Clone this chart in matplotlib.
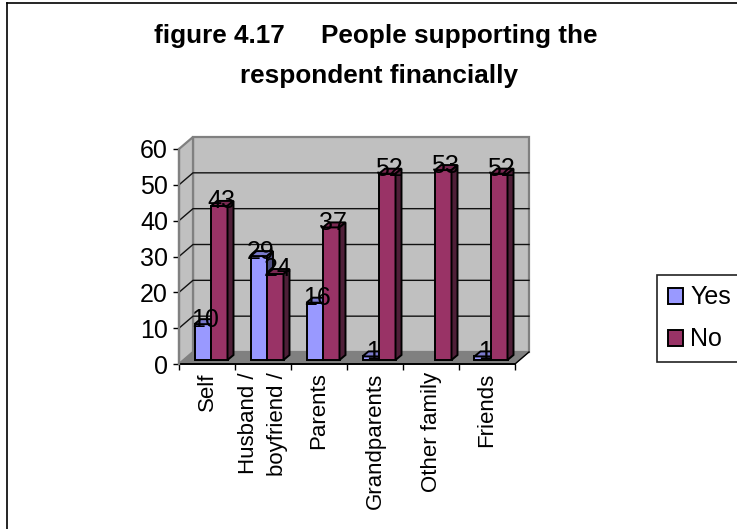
import matplotlib
matplotlib.use('Agg')
import matplotlib.pyplot as plt
from matplotlib.lines import Line2D
from matplotlib.patches import Patch, Polygon

plt.rcParams['font.family'] = ['Liberation Sans', 'DejaVu Sans']

categories = ['Self', 'Husband /\nboyfriend /', 'Parents', 'Grandparents', 'Other family', 'Friends']
yes_values = [10, 29, 16, 1, 0, 1]
no_values = [43, 24, 37, 52, 53, 52]
y_ticks = [0, 10, 20, 30, 40, 50, 60]

W, H = 737, 529
fig = plt.figure(figsize=(W / 100, H / 100), dpi=100, facecolor='white')

# front plane of the 3d box, in pixels
left, right, bottom, top = 179, 515, 364, 149
ax = fig.add_axes([left / W, 1 - bottom / H, (right - left) / W, (bottom - top) / H])
ax.set_xlim(0, 6)
ax.set_ylim(0, 60)
ax.patch.set_visible(False)
for s in ax.spines.values():
    s.set_visible(False)

ux = 6 / (right - left)
uy = 60 / (bottom - top)
wall_dx, wall_dy = 14 * ux, 12 * uy   # depth of the whole box
base_dx, base_dy = 4 * ux, 4 * uy     # where the bars stand on the floor
bar_dx, bar_dy = 6 * ux, 5 * uy       # depth of one bar
bar_w = 16.5 * ux

grey = '#c0c0c0'
dark = '#808080'


def poly(pts, fc, ec='black', lw=1.4, z=2):
    ax.add_patch(Polygon(pts, closed=True, facecolor=fc, edgecolor=ec, linewidth=lw,
                         joinstyle='miter', clip_on=False, zorder=z))


# walls and floor
poly([(wall_dx, wall_dy), (6 + wall_dx, wall_dy), (6 + wall_dx, 60 + wall_dy), (wall_dx, 60 + wall_dy)],
     grey, dark, 1.6, 1)
poly([(0, 0), (wall_dx, wall_dy), (wall_dx, 60 + wall_dy), (0, 60)], grey, dark, 1.6, 1)
poly([(0, 0), (6, 0), (6 + wall_dx, wall_dy), (wall_dx, wall_dy)], dark, dark, 0.5, 1)

for t in y_ticks[1:-1]:
    ax.plot([0, wall_dx, 6 + wall_dx], [t, t + wall_dy, t + wall_dy], color='#111111', lw=1,
            clip_on=False, zorder=1.5)
ax.plot([6, 6 + wall_dx], [0, wall_dy], color='black', lw=1, clip_on=False, zorder=1.5)


def draw_bars(values, offset, face, top_c, side_c, z):
    xs = [i + 0.5 + base_dx + offset for i in range(len(values))]
    for x, v in zip(xs, values):
        if v == 0:
            continue
        x0, x1 = x - bar_w / 2, x + bar_w / 2
        t = v + base_dy
        ax.bar(x, v, bottom=base_dy, width=bar_w, color=face, edgecolor='black', linewidth=1.4,
               clip_on=False, zorder=z)
        poly([(x0, t), (x1, t), (x1 + bar_dx, t + bar_dy), (x0 + bar_dx, t + bar_dy)], top_c, z=z)
        poly([(x1, base_dy), (x1 + bar_dx, base_dy + bar_dy), (x1 + bar_dx, t + bar_dy), (x1, t)],
             side_c, z=z)
    return xs


yes_x = draw_bars(yes_values, -bar_w / 2, '#9999ff', '#7a7acc', '#4d4d80', 3)
no_x = draw_bars(no_values, bar_w / 2, '#993366', '#7a2952', '#4f1f38', 4)

# value labels overlap the top of each bar
for xs, vals in ((yes_x, yes_values), (no_x, no_values)):
    for x, v in zip(xs, vals):
        if v == 0:
            continue
        ax.text(x + 2 * ux, v + base_dy - 2.5 * uy, str(v), ha='center', va='baseline', fontsize=18,
                color='black', clip_on=False, zorder=6)

ax.set_yticks(y_ticks)
ax.tick_params(axis='y', length=4.3, width=1, pad=3.6, labelsize=18, color='black')
ax.set_xticks(range(7), minor=True)
ax.set_xticks([i + 0.5 for i in range(6)])
ax.set_xticklabels(categories, rotation=90, fontsize=16, linespacing=1.5, ma='right',
                   ha='center', va='top')
ax.tick_params(axis='x', which='major', length=0, pad=6)
ax.tick_params(axis='x', which='minor', length=4.3, width=1, color='black')
ax.plot([0, 6], [0, 0], color='black', lw=1.4, clip_on=False, zorder=2)
ax.plot([0, 0], [0, 60], color=dark, lw=1.6, clip_on=False, zorder=2)

fig.text(376 / W, 1 - 43 / H, 'figure 4.17     People supporting the', ha='center', va='baseline',
         fontsize=18.8, fontweight='bold', color='black')
fig.text(379 / W, 1 - 83 / H, 'respondent financially', ha='center', va='baseline',
         fontsize=18.8, fontweight='bold', color='black')

# chart area border runs along the left and top edges only
fig.add_artist(Line2D([7 / W, 7 / W], [0, 1 - 3 / H], color='black', lw=1.2))
fig.add_artist(Line2D([7 / W, 1], [1 - 3 / H, 1 - 3 / H], color='black', lw=1.2))

handles = [Patch(facecolor='#9999ff', edgecolor='black', linewidth=1.4, label='Yes'),
           Patch(facecolor='#993366', edgecolor='black', linewidth=1.4, label='No')]
leg = fig.legend(handles=handles, loc='upper left', bbox_to_anchor=(657 / W, 1 - 275 / H),
                 bbox_transform=fig.transFigure, fontsize=18, frameon=True, fancybox=False,
                 edgecolor='#222222', framealpha=1, borderpad=0.42, borderaxespad=0,
                 handlelength=0.6, handleheight=0.6, handletextpad=0.3, labelspacing=0.72)
leg.get_frame().set_linewidth(1.2)

fig.savefig('out.png', dpi=100)
